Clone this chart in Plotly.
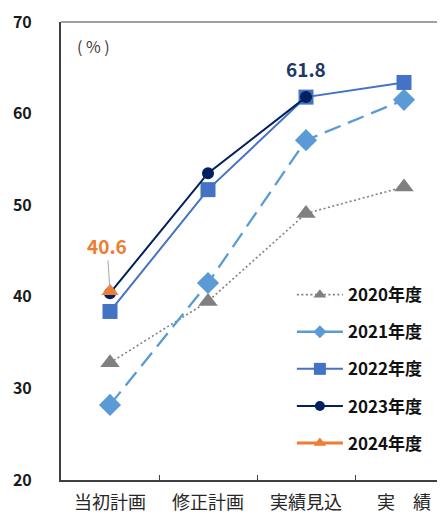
import plotly.graph_objects as go

categories = ["当初計画", "修正計画", "実績見込", "実　績"]
y2020 = [32.8, 39.5, 49.1, 52.0]
y2021 = [28.2, 41.5, 57.1, 61.5]
y2022 = [38.4, 51.7, 61.8, 63.4]
y2023 = [40.4, 53.5, 61.8, None]
y2024 = [40.6, None, None, None]
series_names = ["2020年度", "2021年度", "2022年度", "2023年度", "2024年度"]

FONT = "Noto Sans CJK JP"

styles = [
    dict(y=y2020, color="#808080", dash="2px,2.5px", ldash="2px,2.5px", width=1.6, symbol="triangle-up", size=17, lsize=11),
    dict(y=y2021, color="#5B9BD5", dash="17px,8px", ldash="solid", width=2.3, symbol="diamond", size=17, lsize=10),
    dict(y=y2022, color="#4472C4", dash="solid", ldash="solid", width=2.0, symbol="square", size=15, lsize=12),
    dict(y=y2023, color="#002060", dash="solid", ldash="solid", width=2.0, symbol="circle", size=12, lsize=10),
    dict(y=y2024, color="#ED7D31", dash="solid", ldash="solid", width=3, symbol="triangle-up", size=15, lsize=11),
]

fig = go.Figure()
for name, s in zip(series_names, styles):
    fig.add_trace(go.Scatter(
        x=categories, y=s["y"], name=name, mode="lines+markers", showlegend=False,
        line=dict(color=s["color"], dash=s["dash"], width=s["width"]),
        marker=dict(symbol=s["symbol"], size=s["size"], color=s["color"]),
        connectgaps=False,
    ))
# legend entries (smaller markers, as in the reference legend)
for name, s in zip(series_names, styles):
    fig.add_trace(go.Scatter(
        x=[None], y=[None], name=name, mode="lines+markers", legendgroup=name,
        line=dict(color=s["color"], dash=s["ldash"], width=s["width"]),
        marker=dict(symbol=s["symbol"], size=s["lsize"], color=s["color"]),
    ))

fig.add_annotation(x=categories[2], y=y2023[2], text="<b>61.8</b>", showarrow=False,
                   yshift=29, font=dict(family=FONT, size=19, color="#1F3864"))
fig.add_annotation(x=categories[0], y=y2024[0], text="<b>40.6</b>", showarrow=True,
                   arrowhead=0, arrowwidth=1, arrowcolor="#a6a6a6",
                   ax=-3, ay=-46, standoff=3,
                   font=dict(family=FONT, size=19, color="#ED7D31"))
fig.add_annotation(xref="paper", yref="paper", x=0.082, y=0.948, text="( % )",
                   xanchor="center", yanchor="middle",
                   showarrow=False, font=dict(family=FONT, size=16, color="#404040"))

# top frame line
fig.add_shape(type="line", xref="paper", yref="paper", x0=0, x1=1, y0=1, y1=1,
              line=dict(color="#808080", width=1.5))

# the page body has an 8px margin; margins compensate so the plot area sits where the reference has it
fig.update_layout(
    width=445, height=512,
    margin=dict(l=53, r=0, t=14, b=40),
    paper_bgcolor="white", plot_bgcolor="white",
    font=dict(family=FONT, color="#1a1a1a"),
    showlegend=True,
    legend=dict(x=0.589, y=0.443, xanchor="left", yanchor="top",
                font=dict(family=FONT, size=17, color="#111111", weight="bold"),
                tracegroupgap=12, itemwidth=46, bgcolor="rgba(0,0,0,0)"),
    xaxis=dict(range=[-0.5, 3.5], showgrid=False, showline=True, linecolor="#404040",
               linewidth=2, ticks="inside", ticklen=5, tickcolor="#404040",
               tickson="boundaries", tickfont=dict(family=FONT, size=18, color="#262626"),
               ticklabelstandoff=5),
    yaxis=dict(range=[20, 70], dtick=10, showgrid=False, showline=True, linecolor="#404040",
               linewidth=2, ticks="", tickfont=dict(family=FONT, size=16, color="#1a1a1a", weight="bold"),
               ticklabelstandoff=24),
)

fig.write_html("out.html")
